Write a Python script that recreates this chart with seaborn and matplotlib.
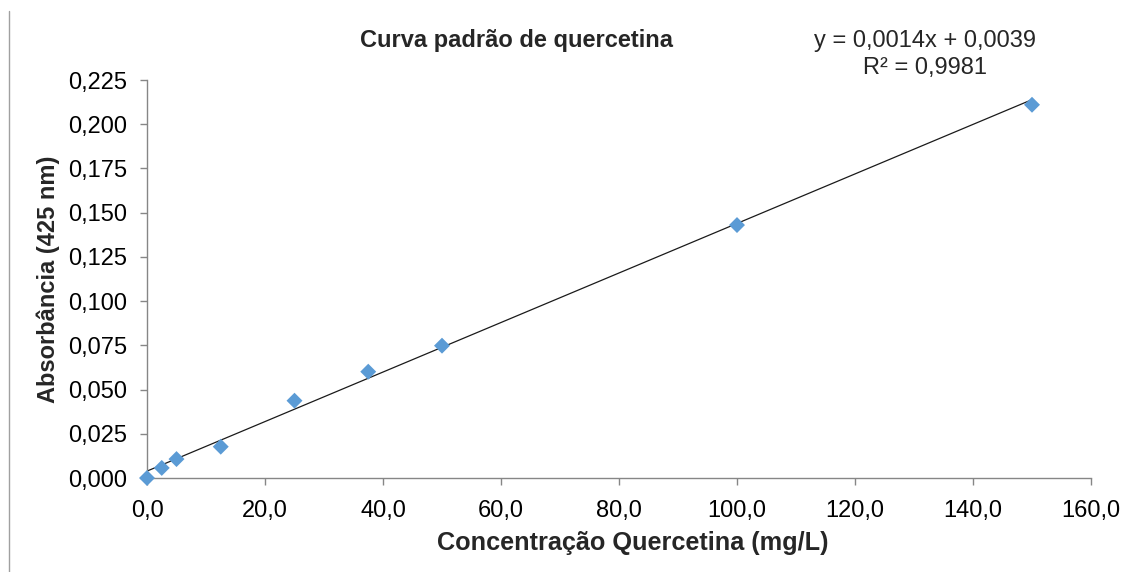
import matplotlib
matplotlib.use("Agg")
import matplotlib.pyplot as plt
from matplotlib.lines import Line2D
from matplotlib.ticker import FuncFormatter, MultipleLocator
import numpy as np
import pandas as pd
import seaborn as sns

# Calibration standards: quercetin concentration (mg/L) vs absorbance at 425 nm
concentration = [0.0, 2.5, 5.0, 12.5, 25.0, 37.5, 50.0, 100.0, 150.0]
absorbance = [0.000, 0.0057, 0.0107, 0.0177, 0.0437, 0.0601, 0.0748, 0.143, 0.211]

# Linear trendline coefficients as reported
slope = 0.0014
intercept = 0.0039
r_squared = 0.9981

title = "Curva padrão de quercetina"
x_label = "Concentração Quercetina (mg/L)"
y_label = "Absorbância (425 nm)"

sns.set_style("white")
plt.rcParams["font.family"] = ["Liberation Sans", "DejaVu Sans"]

df = pd.DataFrame({"conc": concentration, "abs": absorbance})
fit_x = np.array([min(concentration), max(concentration)])
fit_df = pd.DataFrame({"conc": fit_x, "abs": slope * fit_x + intercept})

fig = plt.figure(figsize=(11.29, 5.72), dpi=100)
ax = fig.add_axes([147 / 1129, 1 - 478 / 572, (1091 - 147) / 1129, (478 - 80) / 572])

sns.lineplot(data=fit_df, x="conc", y="abs", ax=ax, color="#1a1a1a", linewidth=0.9)
sns.scatterplot(data=df, x="conc", y="abs", ax=ax, marker="D", s=66,
                color="#5B9BD5", edgecolor="none", zorder=3, clip_on=False)

ax.set_xlim(0, 160)
ax.set_ylim(0, 0.225)
ax.xaxis.set_major_locator(MultipleLocator(20))
ax.yaxis.set_major_locator(MultipleLocator(0.025))
ax.xaxis.set_major_formatter(FuncFormatter(lambda v, p: f"{v:.1f}".replace(".", ",")))
ax.yaxis.set_major_formatter(FuncFormatter(lambda v, p: f"{v:.3f}".replace(".", ",")))

axis_grey = "#868686"
for side in ("top", "right"):
    ax.spines[side].set_visible(False)
for side in ("left", "bottom"):
    ax.spines[side].set_color(axis_grey)
    ax.spines[side].set_linewidth(1.0)

ax.tick_params(axis="both", which="major", direction="out", length=5,
               width=1.0, color=axis_grey, labelsize=17, labelcolor="#000000",
               left=True, bottom=True)
ax.tick_params(axis="y", pad=9)
ax.tick_params(axis="x", pad=11)

ax.set_xlabel(x_label, fontsize=18.2, fontweight="bold", labelpad=6)
ax.xaxis.label.set_x(0.515)
ax.set_ylabel(y_label, fontsize=17, fontweight="bold", labelpad=6)

fig.text(517 / 1129, 1 - 41 / 572, title, fontsize=17, fontweight="bold",
         ha="center", va="center")
fig.text(925 / 1129, 1 - 41 / 572, f"y = {slope:.4f}x + {intercept:.4f}".replace(".", ","),
         fontsize=17, ha="center", va="center")
fig.text(925 / 1129, 1 - 68 / 572, f"R² = {r_squared:.4f}".replace(".", ","),
         fontsize=17, ha="center", va="center")

# Left frame edge of the chart area
fig.add_artist(Line2D([8.5 / 1129, 8.5 / 1129], [0, 1 - 11 / 572],
                      transform=fig.transFigure, color="#a0a0a0", linewidth=1.0))

fig.savefig("out.png", dpi=100)
